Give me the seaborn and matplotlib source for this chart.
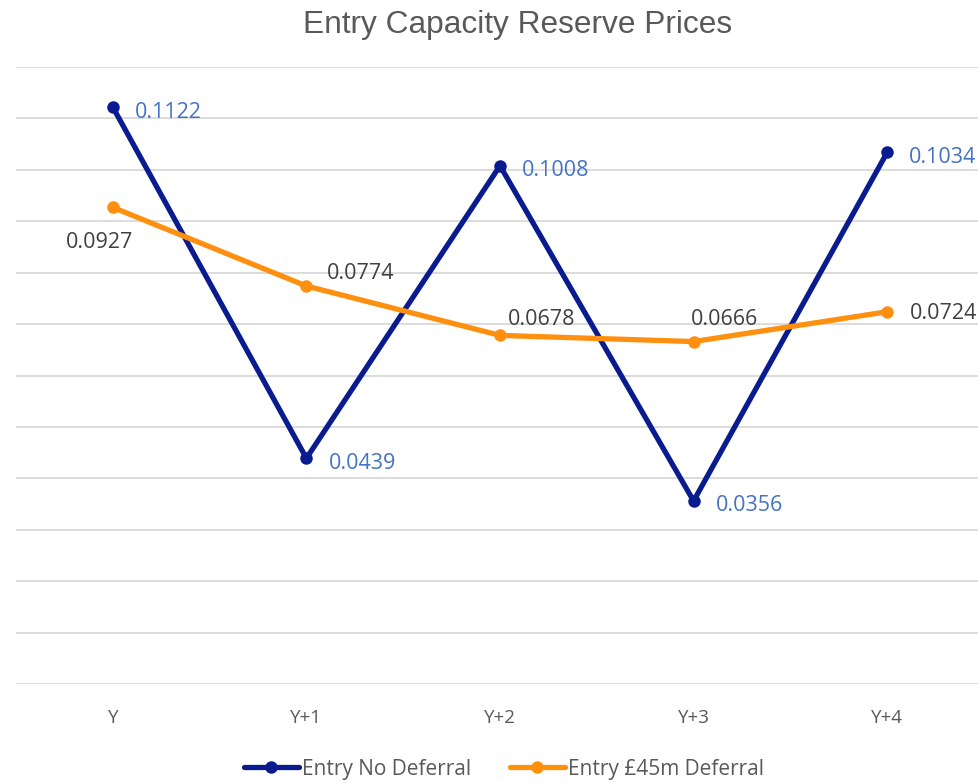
import seaborn as sns
import matplotlib.pyplot as plt
import pandas as pd

# data
years = ["Y", "Y+1", "Y+2", "Y+3", "Y+4"]
no_deferral = [0.1122, 0.0439, 0.1008, 0.0356, 0.1034]
deferral_45m = [0.0927, 0.0774, 0.0678, 0.0666, 0.0724]
series_names = ["Entry No Deferral", "Entry £45m Deferral"]

navy = "#0A1B8F"
orange = "#FF8F0F"
grey = "#595959"

data = pd.DataFrame({
    "year": years * 2,
    "price": no_deferral + deferral_45m,
    "series": [series_names[0]] * 5 + [series_names[1]] * 5,
})

sns.set_style("white")
plt.rcParams["font.family"] = ["Open Sans", "DejaVu Sans"]

fig = plt.figure(figsize=(9.79, 7.83), dpi=100)
ax = fig.add_axes([16 / 979, 1 - 684 / 783, 968 / 979, 617 / 783])

sns.lineplot(data=data, x="year", y="price", hue="series",
             palette=[navy, orange], marker="o", markersize=9,
             markeredgewidth=0, linewidth=3.8, sort=False, ax=ax)

ax.set_xlim(-0.5, 4.5)
ax.set_ylim(0, 0.12)
ax.set_yticks([i * 0.01 for i in range(13)])
ax.set_yticklabels([])
ax.grid(axis="y", color="#D9D9D9", linewidth=1.3)
ax.set_axisbelow(True)
for s in ax.spines.values():
    s.set_visible(False)
ax.tick_params(axis="x", length=0, pad=18, labelsize=13.5, labelcolor=grey)
ax.tick_params(axis="y", length=0)
ax.set_xlabel("")
ax.set_ylabel("")

# data labels
for i, v in enumerate(no_deferral):
    ax.annotate(f"{v:.4f}", (i, v), xytext=(22, -5), textcoords="offset pixels",
                ha="left", va="center", fontsize=15.5, color="#4472C4")

orange_offsets = [(-13, -35), (20, 13), (8, 16), (-3, 22), (23, -2)]
for i, v in enumerate(deferral_45m):
    dx, dy = orange_offsets[i]
    ha = "center" if i == 0 else "left"
    ax.annotate(f"{v:.4f}", (i, v), xytext=(dx, dy), textcoords="offset pixels",
                ha=ha, va="center", fontsize=15.5, color="#404040")

fig.text(518 / 979, 1 - 25 / 783, "Entry Capacity Reserve Prices",
         ha="center", va="center", fontsize=22.8, color=grey,
         family="Liberation Sans")

handles, labels = ax.get_legend_handles_labels()
ax.legend(handles, labels, loc="center", bbox_to_anchor=(504 / 979, 1 - 769 / 783),
          bbox_transform=fig.transFigure, ncol=2, frameon=False,
          fontsize=15, labelcolor=grey, handlelength=2.6, handletextpad=0.15,
          columnspacing=1.9)

fig.savefig("out.png", dpi=100)
